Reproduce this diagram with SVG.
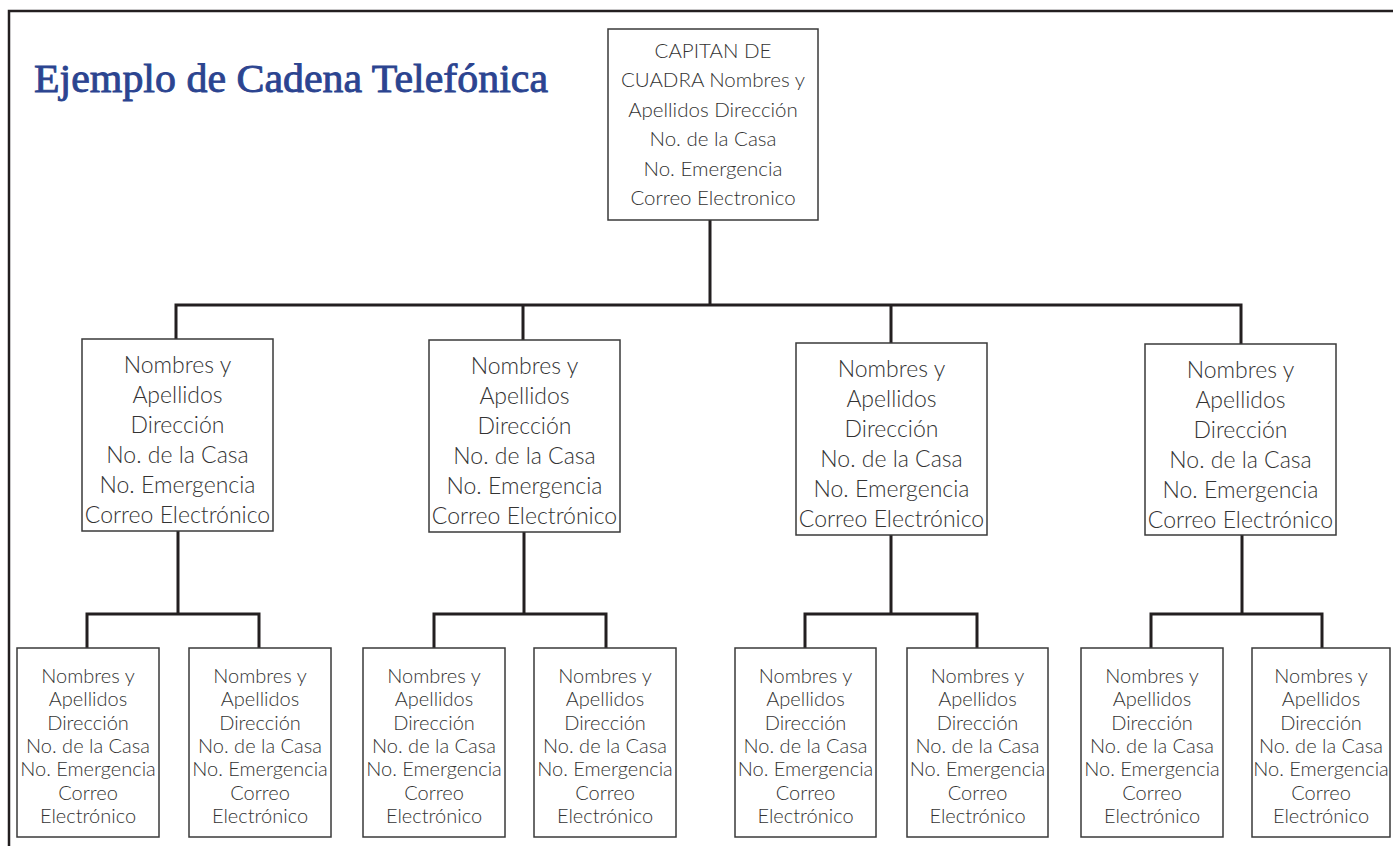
<svg xmlns="http://www.w3.org/2000/svg" width="1393" height="846" viewBox="0 0 1393 846">
<style>
.frame{fill:none;stroke:#231f20;stroke-width:2.5}
.box{fill:#fff;stroke:#3a3a3a;stroke-width:1.5}
.con{fill:none;stroke:#231f20;stroke-width:3;stroke-linejoin:miter;stroke-linecap:butt}
.t{font-family:Lato,"Open Sans","Liberation Sans",sans-serif;font-weight:300;fill:#333;text-anchor:middle}
.top{font-size:20.5px}
.mid{font-size:23px}
.bot{font-size:20px}
.title{font-family:"Liberation Serif","DejaVu Serif",serif;font-size:41px;font-weight:normal;fill:#2b4490;stroke:#2b4490;stroke-width:0.9}
</style>
<rect width="1393" height="846" fill="#fff"/>
<rect class="frame" x="9" y="11" width="1420" height="900"/>
<text class="title" x="34" y="92" textLength="514" lengthAdjust="spacingAndGlyphs">Ejemplo de Cadena Telefónica</text>

<g id="connectors">
<path class="con" d="M710 220V305M176 340V305H1241V344M523 305V340M891 305V343"/>
<path class="con" d="M178 531V614M87 648V614H259V648"/>
<path class="con" d="M524 532V614M434 648V614H606V648"/>
<path class="con" d="M891 535V614M805 648V614H977V648"/>
<path class="con" d="M1242 535V614M1151 648V614H1322V648"/>
</g>

<g id="capitan">
<rect class="box" x="608" y="29" width="210" height="191"/>
<text class="t top"><tspan x="713" y="57.5">CAPITAN DE</tspan><tspan x="713" y="87">CUADRA Nombres y</tspan><tspan x="713" y="116.5">Apellidos Dirección</tspan><tspan x="713" y="146">No. de la Casa</tspan><tspan x="713" y="175.5">No. Emergencia</tspan><tspan x="713" y="205">Correo Electronico</tspan></text>
</g>

<g id="m1">
<rect class="box" x="82" y="339" width="191" height="192"/>
<text class="t mid"><tspan x="177.5" y="373">Nombres y</tspan><tspan x="177.5" y="403">Apellidos</tspan><tspan x="177.5" y="433">Dirección</tspan><tspan x="177.5" y="463">No. de la Casa</tspan><tspan x="177.5" y="493">No. Emergencia</tspan><tspan x="177.5" y="523">Correo Electrónico</tspan></text>
</g>
<g id="m2">
<rect class="box" x="429" y="340" width="191" height="192"/>
<text class="t mid"><tspan x="524.5" y="374">Nombres y</tspan><tspan x="524.5" y="404">Apellidos</tspan><tspan x="524.5" y="434">Dirección</tspan><tspan x="524.5" y="464">No. de la Casa</tspan><tspan x="524.5" y="494">No. Emergencia</tspan><tspan x="524.5" y="524">Correo Electrónico</tspan></text>
</g>
<g id="m3">
<rect class="box" x="796" y="343" width="191" height="192"/>
<text class="t mid"><tspan x="891.5" y="377">Nombres y</tspan><tspan x="891.5" y="407">Apellidos</tspan><tspan x="891.5" y="437">Dirección</tspan><tspan x="891.5" y="467">No. de la Casa</tspan><tspan x="891.5" y="497">No. Emergencia</tspan><tspan x="891.5" y="527">Correo Electrónico</tspan></text>
</g>
<g id="m4">
<rect class="box" x="1145" y="344" width="191" height="191"/>
<text class="t mid"><tspan x="1240.5" y="378">Nombres y</tspan><tspan x="1240.5" y="408">Apellidos</tspan><tspan x="1240.5" y="438">Dirección</tspan><tspan x="1240.5" y="468">No. de la Casa</tspan><tspan x="1240.5" y="498">No. Emergencia</tspan><tspan x="1240.5" y="528">Correo Electrónico</tspan></text>
</g>

<g id="b1a">
<rect class="box" x="17" y="648" width="142" height="189"/>
<text class="t bot"><tspan x="88" y="683">Nombres y</tspan><tspan x="88" y="706.3">Apellidos</tspan><tspan x="88" y="729.7">Dirección</tspan><tspan x="88" y="753">No. de la Casa</tspan><tspan x="88" y="776.3">No. Emergencia</tspan><tspan x="88" y="799.7">Correo</tspan><tspan x="88" y="823">Electrónico</tspan></text>
</g>
<g id="b1b">
<rect class="box" x="189" y="648" width="142" height="189"/>
<text class="t bot"><tspan x="260" y="683">Nombres y</tspan><tspan x="260" y="706.3">Apellidos</tspan><tspan x="260" y="729.7">Dirección</tspan><tspan x="260" y="753">No. de la Casa</tspan><tspan x="260" y="776.3">No. Emergencia</tspan><tspan x="260" y="799.7">Correo</tspan><tspan x="260" y="823">Electrónico</tspan></text>
</g>
<g id="b2a">
<rect class="box" x="363" y="648" width="142" height="189"/>
<text class="t bot"><tspan x="434" y="683">Nombres y</tspan><tspan x="434" y="706.3">Apellidos</tspan><tspan x="434" y="729.7">Dirección</tspan><tspan x="434" y="753">No. de la Casa</tspan><tspan x="434" y="776.3">No. Emergencia</tspan><tspan x="434" y="799.7">Correo</tspan><tspan x="434" y="823">Electrónico</tspan></text>
</g>
<g id="b2b">
<rect class="box" x="534" y="648" width="142" height="189"/>
<text class="t bot"><tspan x="605" y="683">Nombres y</tspan><tspan x="605" y="706.3">Apellidos</tspan><tspan x="605" y="729.7">Dirección</tspan><tspan x="605" y="753">No. de la Casa</tspan><tspan x="605" y="776.3">No. Emergencia</tspan><tspan x="605" y="799.7">Correo</tspan><tspan x="605" y="823">Electrónico</tspan></text>
</g>
<g id="b3a">
<rect class="box" x="735" y="648" width="141" height="189"/>
<text class="t bot"><tspan x="805.5" y="683">Nombres y</tspan><tspan x="805.5" y="706.3">Apellidos</tspan><tspan x="805.5" y="729.7">Dirección</tspan><tspan x="805.5" y="753">No. de la Casa</tspan><tspan x="805.5" y="776.3">No. Emergencia</tspan><tspan x="805.5" y="799.7">Correo</tspan><tspan x="805.5" y="823">Electrónico</tspan></text>
</g>
<g id="b3b">
<rect class="box" x="907" y="648" width="141" height="189"/>
<text class="t bot"><tspan x="977.5" y="683">Nombres y</tspan><tspan x="977.5" y="706.3">Apellidos</tspan><tspan x="977.5" y="729.7">Dirección</tspan><tspan x="977.5" y="753">No. de la Casa</tspan><tspan x="977.5" y="776.3">No. Emergencia</tspan><tspan x="977.5" y="799.7">Correo</tspan><tspan x="977.5" y="823">Electrónico</tspan></text>
</g>
<g id="b4a">
<rect class="box" x="1081" y="648" width="142" height="189"/>
<text class="t bot"><tspan x="1152" y="683">Nombres y</tspan><tspan x="1152" y="706.3">Apellidos</tspan><tspan x="1152" y="729.7">Dirección</tspan><tspan x="1152" y="753">No. de la Casa</tspan><tspan x="1152" y="776.3">No. Emergencia</tspan><tspan x="1152" y="799.7">Correo</tspan><tspan x="1152" y="823">Electrónico</tspan></text>
</g>
<g id="b4b">
<rect class="box" x="1252" y="648" width="138" height="189"/>
<text class="t bot"><tspan x="1321" y="683">Nombres y</tspan><tspan x="1321" y="706.3">Apellidos</tspan><tspan x="1321" y="729.7">Dirección</tspan><tspan x="1321" y="753">No. de la Casa</tspan><tspan x="1321" y="776.3">No. Emergencia</tspan><tspan x="1321" y="799.7">Correo</tspan><tspan x="1321" y="823">Electrónico</tspan></text>
</g>
</svg>
